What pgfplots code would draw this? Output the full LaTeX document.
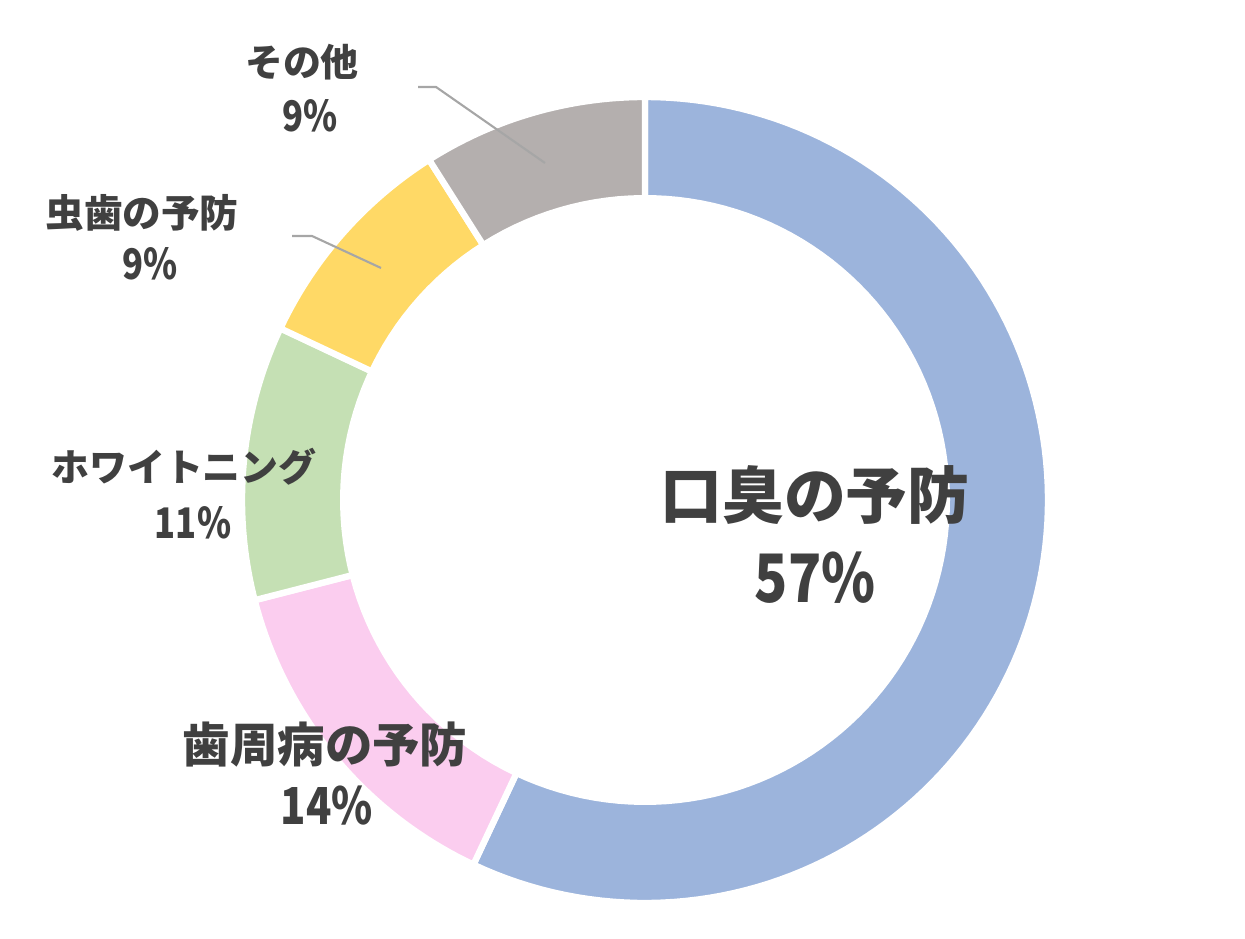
\documentclass[border=0pt]{standalone}
\usepackage{pgfplots}
\pgfplotsset{compat=1.18}
\usepackage{pgfplotstable}
\usepackage{graphicx}
\usepackage{fontspec}
\setmainfont{Noto Sans CJK JP}
\definecolor{cA}{HTML}{9CB4DC}
\definecolor{cB}{HTML}{FBCDEF}
\definecolor{cC}{HTML}{C5E0B4}
\definecolor{cD}{HTML}{FFD966}
\definecolor{cE}{HTML}{B4AFAE}
\definecolor{txt}{HTML}{404040}
\definecolor{lead}{HTML}{A6A6A6}
\pgfplotstableread{
label value
koushu 57
shishubyo 14
whitening 11
mushiba 9
sonota 9
}\data
\pgfplotstablegetelem{0}{value}\of\data \let\va\pgfplotsretval
\pgfplotstablegetelem{1}{value}\of\data \let\vb\pgfplotsretval
\pgfplotstablegetelem{2}{value}\of\data \let\vc\pgfplotsretval
\pgfplotstablegetelem{3}{value}\of\data \let\vd\pgfplotsretval
\pgfplotstablegetelem{4}{value}\of\data \let\ve\pgfplotsretval
\pgfmathsetmacro{\aA}{90}
\pgfmathsetmacro{\aB}{\aA-3.6*\va}
\pgfmathsetmacro{\aC}{\aB-3.6*\vb}
\pgfmathsetmacro{\aD}{\aC-3.6*\vc}
\pgfmathsetmacro{\aE}{\aD-3.6*\vd}
\pgfmathsetmacro{\aF}{\aE-3.6*\ve}
\newcommand{\num}[1]{\scalebox{0.82}[1]{#1}}
\begin{document}
\begin{tikzpicture}
\begin{axis}[
  scale only axis, width=12.45cm, height=9.38cm,
  xmin=0, xmax=1245, ymin=0, ymax=938,
  hide axis, clip=false,
]
\addplot[fill=cA, draw=white, line width=1.8pt, domain=\aB:\aA, samples=120, variable=\t]
  ({645+403*cos(t)},{438+403*sin(t)}) -- (axis cs:645,438) -- cycle;
\addplot[fill=cB, draw=white, line width=1.8pt, domain=\aC:\aB, samples=40, variable=\t]
  ({645+403*cos(t)},{438+403*sin(t)}) -- (axis cs:645,438) -- cycle;
\addplot[fill=cC, draw=white, line width=1.8pt, domain=\aD:\aC, samples=40, variable=\t]
  ({645+403*cos(t)},{438+403*sin(t)}) -- (axis cs:645,438) -- cycle;
\addplot[fill=cD, draw=white, line width=1.8pt, domain=\aE:\aD, samples=40, variable=\t]
  ({645+403*cos(t)},{438+403*sin(t)}) -- (axis cs:645,438) -- cycle;
\addplot[fill=cE, draw=white, line width=1.8pt, domain=\aF:\aE, samples=40, variable=\t]
  ({645+403*cos(t)},{438+403*sin(t)}) -- (axis cs:645,438) -- cycle;
\addplot[fill=white, draw=none, domain=0:360, samples=160, variable=\t]
  ({645+305*cos(t)},{438+305*sin(t)}) -- cycle;
% leader lines
\addplot[lead, line width=0.6pt, no marks] coordinates {(418,851) (436,851) (545,775)};
\addplot[lead, line width=0.6pt, no marks] coordinates {(292,702) (312,702) (381,670)};
% labels
\begin{scope}[every node/.style={text=txt, font=\bfseries, inner sep=0pt}]
\node[font=\fontsize{17.6}{20}\selectfont\bfseries] at (axis cs:815,443) {口臭の予防};
\node[font=\fontsize{19}{22}\selectfont\bfseries] at (axis cs:815,360) {\num{57\%}};
\node[font=\fontsize{13.5}{16}\selectfont\bfseries] at (axis cs:325,193) {歯周病の予防};
\node[font=\fontsize{14.5}{16}\selectfont\bfseries] at (axis cs:327,132) {\num{14\%}};
\node[font=\fontsize{10.8}{13}\selectfont\bfseries] at (axis cs:184,471) {ホワイトニング};
\node[font=\fontsize{12}{14}\selectfont\bfseries] at (axis cs:193,415) {\num{11\%}};
\node[font=\fontsize{11}{13}\selectfont\bfseries] at (axis cs:142,725) {虫歯の予防};
\node[font=\fontsize{12}{14}\selectfont\bfseries] at (axis cs:150,674) {\num{9\%}};
\node[font=\fontsize{10.8}{13}\selectfont\bfseries] at (axis cs:302,876) {その他};
\node[font=\fontsize{12}{14}\selectfont\bfseries] at (axis cs:310,822) {\num{9\%}};
\end{scope}
\end{axis}
\pgfresetboundingbox
\path (current axis.south west) rectangle (current axis.north east);
\end{tikzpicture}
\end{document}
